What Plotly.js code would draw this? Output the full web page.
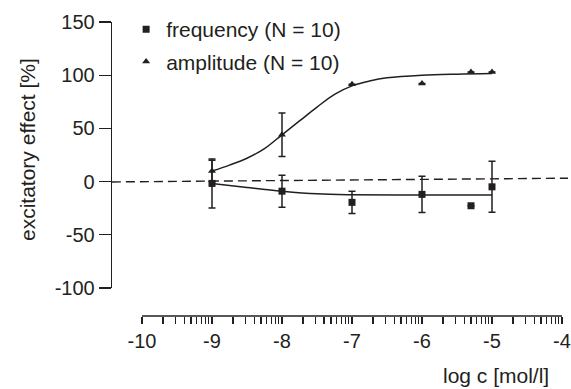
<!DOCTYPE html>
<html>
<head>
<meta charset="utf-8">
<script src="https://cdn.plot.ly/plotly-3.0.1.min.js"></script>
<style>html,body{margin:0;padding:0;background:#fff;}#chart{width:571px;height:389px;}</style>
</head>
<body>
<div id="chart"></div>
<script>
// ---- data ----
const concLog = [-9, -8, -7, -6, -5.3, -5];
const freqVals = [-1.7, -9, -19.5, -12, -22.7, -4.9];
const freqErr = [23, 15, 10.5, 17, null, 24];
const ampVals = [10, 44, 91.5, 92.2, 103, 103];
const ampErr = [10, 20.5, null, null, null, null];

const ampFitX = [-9, -8.75, -8.5, -8.25, -8, -7.75, -7.5, -7.25, -7, -6.75, -6.5, -6, -5.5, -5];
const ampFitY = [9.9, 15.5, 22, 31, 44, 57, 70, 82, 90, 94.5, 97.5, 100, 101, 101.5];
const freqFitX = [-9, -8.5, -8, -7.5, -7, -6, -5];
const freqFitY = [-1.7, -5.5, -9, -11.5, -12.3, -12.5, -12.5];

const ctrlX = [-10.43, -3.91];
const ctrlY = [-0.3, 3.2];

const xTickVals = [-10, -9, -8, -7, -6, -5, -4];
const xTickText = ['-10', '-9', '-8', '-7', '-6', '-5', '-4'];
const yTickVals = [-100, -50, 0, 50, 100, 150];
const yTickText = ['-100', '-50', '0', '50', '100', '150'];

const seriesNames = ['frequency (N = 10)', 'amplitude (N = 10)'];

// minor (log) ticks within each decade
const minorVals = [];
for (let d = -10; d < -4; d++) {
  for (let k = 2; k <= 9; k++) minorVals.push(d + Math.log10(k));
}

const ink = '#231f20';
const FONT = 'Liberation Sans, Arial, sans-serif';

const traces = [
  {x: ctrlX, y: ctrlY, mode: 'lines', line: {color: ink, width: 1.4, dash: '9px,5px'}, showlegend: false, hoverinfo: 'skip'},
  {x: ampFitX, y: ampFitY, mode: 'lines', line: {color: ink, width: 1.5, shape: 'spline'}, showlegend: false},
  {x: freqFitX, y: freqFitY, mode: 'lines', line: {color: ink, width: 1.5, shape: 'spline'}, showlegend: false},
  {x: concLog, y: freqVals, name: seriesNames[0], mode: 'markers', legendgroup: 'a',
   marker: {symbol: 'square', size: 7, color: ink},
   error_y: {type: 'data', array: freqErr, visible: true, color: ink, thickness: 1.5, width: 3.5}},
  {x: concLog, y: ampVals, name: seriesNames[1], mode: 'markers', legendgroup: 'b',
   marker: {symbol: 'triangle-up', size: 7, color: ink},
   error_y: {type: 'data', array: ampErr, visible: true, color: ink, thickness: 1.5, width: 3.5}}
];

const layout = {
  width: 571, height: 389,
  margin: {l: 112, r: 3, t: 22, b: 73, pad: 0},
  paper_bgcolor: '#fff', plot_bgcolor: 'rgba(0,0,0,0)',
  font: {family: FONT, size: 20, color: ink},
  showlegend: true,
  legend: {x: 0.031, y: 1.044, xanchor: 'left', yanchor: 'top', bgcolor: 'rgba(0,0,0,0)',
           font: {family: FONT, size: 21, color: ink}, traceorder: 'grouped', tracegroupgap: 2,
           itemclick: false},
  xaxis: {
    range: [-10.4286, -3.9143], domain: [0, 1], anchor: 'free', position: 0,
    showline: false, showgrid: false, zeroline: false,
    tickmode: 'array', tickvals: xTickVals, ticktext: xTickText,
    ticks: 'outside', ticklen: 7, tickwidth: 1.3, tickcolor: ink,
    tickfont: {family: FONT, size: 20, color: ink},
    minor: {tickmode: 'array', tickvals: minorVals, ticks: 'outside', ticklen: 7, tickwidth: 1.3, tickcolor: ink, showgrid: false}
  },
  yaxis: {
    range: [-100, 150], domain: [0.0952, 1], anchor: 'x',
    showline: true, linecolor: ink, linewidth: 1.3, showgrid: false, zeroline: false,
    tickmode: 'array', tickvals: yTickVals, ticktext: yTickText,
    ticks: 'outside', ticklen: 12, tickwidth: 1.3, tickcolor: ink,
    tickfont: {family: FONT, size: 20, color: ink}
  },
  shapes: [
    {type: 'line', xref: 'x', yref: 'paper', x0: xTickVals[0], x1: xTickVals[xTickVals.length - 1], y0: 0, y1: 0,
     line: {color: ink, width: 1.3}}
  ],
  annotations: [
    {text: 'excitatory effect [%]', textangle: -90, xref: 'paper', yref: 'paper',
     x: (27 - 112) / 456, y: (316 - 150) / 294, xanchor: 'center', yanchor: 'middle', showarrow: false,
     font: {family: FONT, size: 21, color: ink}},
    {text: 'log c [mol/l]', xref: 'paper', yref: 'paper',
     x: (551 - 112) / 456, y: (316 - 375) / 294, xanchor: 'right', yanchor: 'middle', showarrow: false,
     font: {family: FONT, size: 21, color: ink}}
  ]
};

Plotly.newPlot('chart', traces, layout, {displayModeBar: false, staticPlot: true});
</script>
</body>
</html>
